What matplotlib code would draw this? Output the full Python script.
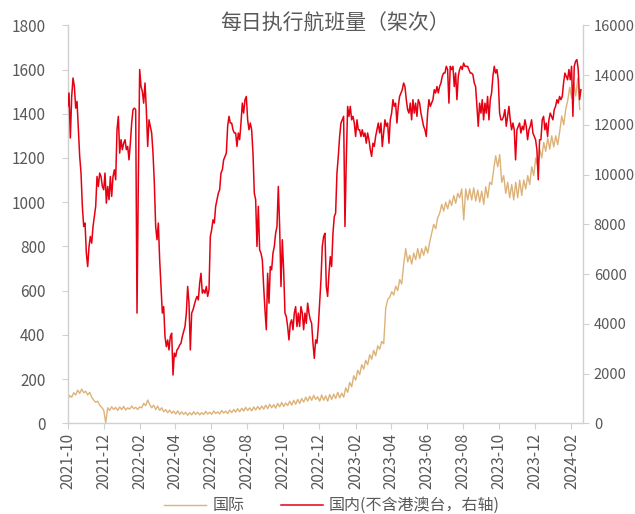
import matplotlib
matplotlib.use("Agg")
import matplotlib.pyplot as plt
import matplotlib.dates as mdates
import pandas as pd

plt.rcParams['font.family'] = ['Noto Sans CJK SC', 'DejaVu Sans']
plt.rcParams['axes.unicode_minus'] = False

# daily flights, sampled every few days from 2021-10-01
start = '2021-10-01'
intl_end = '2024-02-15'
dom_end = '2024-02-17'

# international (left axis)
intl_flights = [
    108, 125, 118, 138, 128, 150, 135, 155, 138, 145, 128, 140, 118, 105, 95, 100, 82,
    72, 60, 2, 70, 58, 75, 62, 72, 58, 74, 62, 76, 60, 70, 64, 78, 66, 72, 62, 74,
    70, 90, 80, 105, 85,
    70, 82, 62, 78, 58, 70, 52, 62, 48, 60, 45, 55, 42, 56, 40,
    52, 40, 50, 36, 48, 38, 52, 40, 50, 38, 48, 40, 54, 42, 50, 40, 56, 44, 52, 42,
    58, 46, 55, 44, 60,
    48, 62, 50, 66, 52, 68, 55, 72, 58, 70, 56, 74, 60, 76, 62,
    78, 64, 82, 66, 86, 70, 84, 68, 90, 74, 94, 76, 92, 80, 100, 82, 104, 86, 108, 90,
    112, 96, 118, 100, 122, 104, 126, 108, 120, 100, 128, 104, 124, 100, 130, 108,
    132, 112, 140, 115, 136, 118,
    160, 140, 185, 165, 215, 195, 240, 220, 265, 245, 285, 265, 310, 290, 330, 305,
    350, 335, 370, 360,
    520, 560, 570, 595, 580, 620, 600, 650, 630, 720, 790, 730, 760, 720, 770, 740,
    790, 745, 790, 760, 800, 770, 820, 860, 900, 880, 930, 950, 990, 960, 1000, 970,
    1010, 985, 1030, 995, 1040, 1020, 1060, 920, 1060, 1010,
    1060, 1010, 1065, 1005, 1055, 1000, 1050, 990, 1070, 1020, 1090, 1080, 1150, 1210,
    1160, 1215, 1090, 1120,
    1040, 1090, 1020, 1080, 1010, 1090, 1020, 1100, 1030, 1100,
    1060, 1120, 1080, 1160, 1120, 1200, 1160, 1240, 1200, 1270, 1230, 1290, 1240, 1300,
    1250, 1300, 1260, 1320, 1390, 1350, 1420, 1460, 1520, 1470, 1540, 1480, 1560, 1420,
]

# domestic excl. HK/Macau/Taiwan (right axis)
dom_flights = [
    12740, 13280, 11470, 13140, 13880, 13540, 12670, 12940, 11800, 10730,
    10060, 8720, 7910, 8050, 6840, 6300, 7110, 7510, 7240, 7910,
    8310, 8720, 9920, 9520, 10060, 9920, 9520, 9390, 10060, 8850,
    9520, 8990, 9920, 9120, 9920, 10190, 9790, 11800, 12340, 10860,
    11400, 11000, 11260, 11400, 11000, 11130, 10590, 11260, 12070, 12610,
    12670, 12610, 4430, 9790, 14220, 13540, 13340, 12870, 13680, 12610,
    11130, 12200, 11940, 11670, 10860,
    9660, 7910, 7380, 8050, 6570, 5500, 4430, 4690, 3490, 3080,
    3350, 2950, 3490, 3620, 1940, 2820, 2680, 2950, 3020, 3150,
    3220, 3490, 3690, 3890, 4430, 5500, 4830, 2950, 4430, 4560,
    4760, 4960, 5100, 4960, 5630, 6030, 5230, 5360, 5230, 5500,
    5100, 5360, 7510, 7780, 8180, 8050, 8720, 8990, 9250, 9390,
    10060, 10190, 10590, 10730, 10860, 11940, 12340, 12070, 12070, 11800,
    11670, 11670, 11130, 11670,
    11400, 12070, 12870, 12470, 13010, 13140, 12200, 11800, 12070, 11800,
    10860, 9250, 8990, 7110, 8720, 6970, 6840, 6570, 5500, 4560,
    3760, 6030, 4830, 6300, 6170, 6840, 7110, 7640, 7910, 9520,
    7910, 5500, 7380, 6170, 4430, 4290, 3890, 3350, 4020, 4160,
    3760, 4430, 4690, 3890, 4430, 3890, 4690, 4430, 3760, 4430,
    4020, 4830, 4430, 4160, 4020, 3220, 2610, 3350, 3220, 3890,
    4830, 5770, 7110, 7510, 7640,
    5500, 5100, 6030, 6700, 6300, 7640, 8310, 8450, 10060, 10730,
    11530, 12070, 12200, 12340, 7910, 10590, 12740, 12340, 12740, 12200,
    12340, 12070, 11530, 12200, 11800, 11800, 11530, 11800, 11530, 11670,
    11260, 11670, 11400, 11000, 10730, 11260, 11130, 11530, 11800, 12070,
    11670, 12070, 11130, 11670, 12200, 11940, 12070, 11260, 12200, 12470,
    13010, 12740, 12870, 12070, 12740, 13140, 13280, 13410, 13680, 13540,
    13010, 12610, 12470, 12870,
    12200, 13010, 12470, 12870, 12340, 13010, 12870, 12470, 12200, 11940,
    11800, 11530, 12470, 13010, 12740, 12870, 13010, 13410, 13280, 13540,
    13280, 13540, 13680, 13950, 14080, 14080, 14350, 14220, 12870, 14350,
    14220, 14350, 13540, 14080, 13010, 13950, 14220, 14350, 14220, 14480,
    14350, 14350, 14350, 14220, 14080, 14080, 14010, 13680, 13540, 12740,
    11940, 12870, 12470, 13010, 12200, 12870, 12470, 13140, 12200, 13010,
    13280, 13950, 14350, 14080, 14220,
    13810, 12470, 12200, 12200, 12340, 12610, 11940, 12340, 12740, 12200,
    11800, 12070, 11800, 10590, 11800, 11940, 12070, 11670, 11940, 11800,
    12200, 11940, 11400, 11800, 11940, 12200, 11670, 11530, 11400, 11000,
    9790, 11400, 11400, 12200, 12340, 11800, 12070, 11530, 12200, 12470,
    12340, 12200, 12610, 12740, 13010, 12870, 13140, 13010, 13140, 13680,
    14080, 13950, 13810, 14220, 13810, 14350, 12340, 14350, 14550, 14620,
    14220, 13010, 13410,
]

left_ticks = list(range(0, 1801, 200))
right_ticks = list(range(0, 16001, 2000))
tick_dates = pd.date_range('2021-10-01', '2024-02-01', freq='2MS')

intl_dates = pd.date_range(start, intl_end, periods=len(intl_flights))
dom_dates = pd.date_range(start, dom_end, periods=len(dom_flights))

tan = '#DDB27A'
red = '#E60012'
grey = '#595959'
axis_grey = '#D0D0D0'

fig = plt.figure(figsize=(6.35, 5.14), dpi=100)
ax = fig.add_axes([0.1066, 0.1765, 0.811, 0.7743])
ax2 = ax.twinx()

l1, = ax.plot(intl_dates, intl_flights, color=tan, lw=1.0, label='国际')
l2, = ax2.plot(dom_dates, dom_flights, color=red, lw=1.1, label='国内(不含港澳台，右轴)')

ax.set_xlim(pd.Timestamp('2021-10-01'), pd.Timestamp('2024-02-20'))
ax.set_ylim(0, 1800)
ax2.set_ylim(0, 16000)
ax.set_yticks(left_ticks)
ax2.set_yticks(right_ticks)
ax.set_xticks(tick_dates)
ax.xaxis.set_major_formatter(mdates.DateFormatter('%Y-%m'))

for a in (ax, ax2):
    for s in a.spines.values():
        s.set_color(axis_grey)
        s.set_linewidth(1.0)
    a.spines['top'].set_visible(False)
ax.spines['right'].set_visible(False)
ax2.spines['left'].set_visible(False)
ax2.spines['bottom'].set_visible(False)

ax.tick_params(axis='y', direction='out', length=4, color=axis_grey,
               labelsize=11, labelcolor=grey, pad=12)
ax2.tick_params(axis='y', direction='out', length=4, color=axis_grey,
                labelsize=10.5, labelcolor=grey, pad=4)
ax.tick_params(axis='x', direction='out', length=4, color=axis_grey,
               labelsize=11, labelcolor=grey, labelrotation=90, pad=3)

fig.text(0.527, 0.954, '每日执行航班量（架次）', ha='center', va='center',
         fontsize=15, color=grey)

fig.legend(handles=[l1, l2], loc='center', bbox_to_anchor=(0.523, 0.016),
           ncol=2, frameon=False, fontsize=11.5, labelcolor=grey,
           handlelength=2.6, handletextpad=0.4, columnspacing=2.3)

fig.savefig('out.png', dpi=100)
